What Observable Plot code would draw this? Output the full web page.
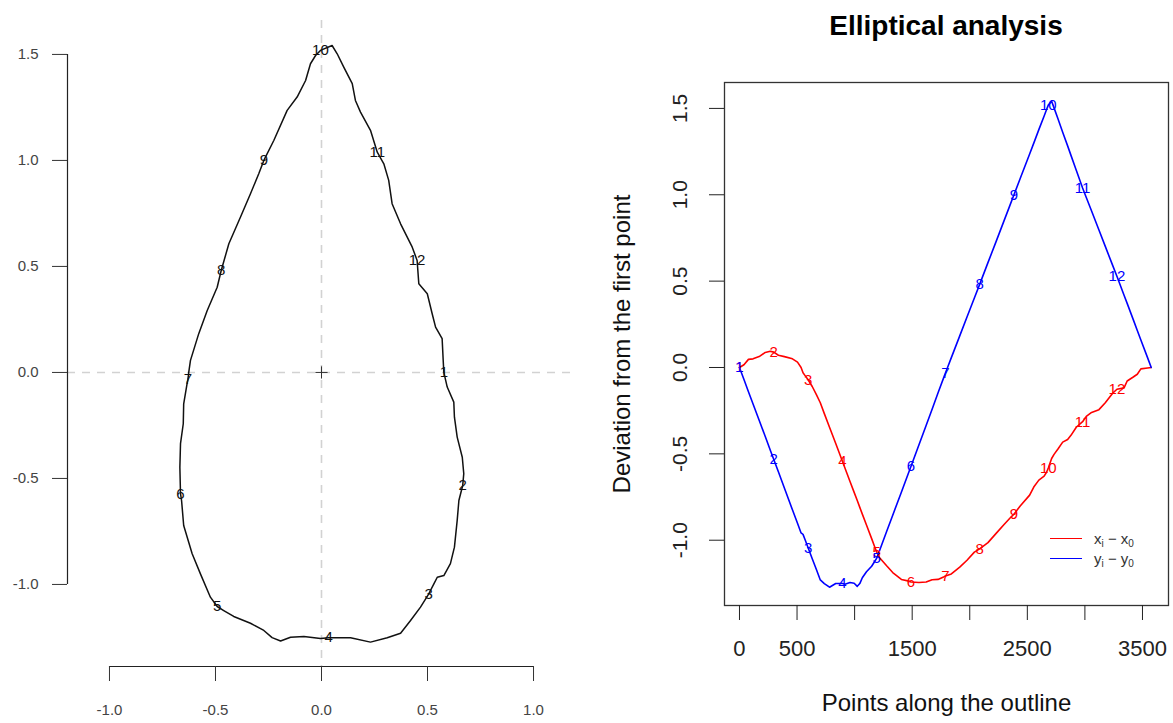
<!DOCTYPE html>
<html><head><meta charset="utf-8">
<script src="https://cdn.jsdelivr.net/npm/d3@7"></script>
<script src="https://cdn.jsdelivr.net/npm/@observablehq/plot@0.6"></script>
<style>
body{margin:0;background:#fff;width:1173px;height:723px;position:relative;overflow:hidden;font-family:"Liberation Sans",Arial,Helvetica,sans-serif;}
#left{position:absolute;left:0;top:0}
#right{position:absolute;left:590px;top:0}
#title{position:absolute;left:724px;width:444px;top:11px;text-align:center;font-weight:bold;font-size:28px;line-height:30px;color:#000}
#legend{position:absolute;left:1050px;top:528px;font-size:15px;color:#333}
.row{display:flex;align-items:center;height:20px}
.sw{width:32px;height:0;border-top:1.6px solid;margin-right:12px}
sub{font-size:10px;vertical-align:-3px;line-height:0}
</style></head><body>
<div id="left"></div><div id="right"></div>
<div id="title">Elliptical analysis</div>
<div id="legend">
  <div class="row"><div class="sw" style="border-color:red"></div><span>x<sub>i</sub> &#8722; x<sub>0</sub></span></div>
  <div class="row"><div class="sw" style="border-color:blue"></div><span>y<sub>i</sub> &#8722; y<sub>0</sub></span></div>
</div>
<script>
// Position of each outline vertex along the outline (point index)
const outlineIndex = [0,39,78,118,171,224,267,298,338,390,460,504,535,552,570,596,632,668,702,737,782,836,894,916,960,996,1023,1045,1067,1103,1148,1174,1192,1217,1278,1331,1406,1472,1490,1559,1621,1673,1724,1777,1788,1808,1840,1913,1976,2040,2086,2158,2231,2294,2348,2384,2438,2520,2556,2600,2646,2668,2682,2711,2732,2766,2807,2850,2879,2925,2980,3012,3058,3122,3177,3241,3278,3340,3367,3420,3455,3486,3544,3576];
// Outline coordinates (x)
const outlineX = [0.577,0.593,0.624,0.627,0.640,0.664,0.671,0.666,0.648,0.640,0.627,0.608,0.577,0.546,0.530,0.506,0.467,0.420,0.373,0.310,0.231,0.137,0.034,-0.005,-0.083,-0.146,-0.193,-0.233,-0.272,-0.335,-0.414,-0.461,-0.492,-0.524,-0.571,-0.610,-0.650,-0.660,-0.665,-0.668,-0.665,-0.652,-0.650,-0.634,-0.630,-0.626,-0.618,-0.579,-0.539,-0.492,-0.473,-0.437,-0.382,-0.335,-0.296,-0.272,-0.225,-0.162,-0.115,-0.075,-0.052,-0.028,-0.005,0.050,0.074,0.105,0.145,0.160,0.184,0.231,0.263,0.294,0.317,0.333,0.373,0.428,0.451,0.459,0.499,0.522,0.538,0.569,0.574,0.577];
// Outline coordinates (y)
const outlineY = [0.000,-0.069,-0.140,-0.211,-0.305,-0.400,-0.478,-0.533,-0.604,-0.698,-0.824,-0.902,-0.958,-0.966,-0.997,-1.044,-1.107,-1.170,-1.230,-1.251,-1.272,-1.251,-1.251,-1.255,-1.245,-1.249,-1.267,-1.251,-1.217,-1.183,-1.151,-1.123,-1.104,-1.060,-0.950,-0.855,-0.722,-0.604,-0.572,-0.447,-0.336,-0.242,-0.148,-0.053,-0.033,0.001,0.057,0.183,0.292,0.402,0.481,0.607,0.733,0.843,0.937,1.000,1.094,1.236,1.299,1.377,1.456,1.495,1.519,1.542,1.503,1.440,1.362,1.283,1.228,1.142,1.039,0.984,0.906,0.796,0.701,0.591,0.528,0.418,0.371,0.277,0.214,0.159,0.057,0.000];
const landmarkLabels = ["1","2","3","4","5","6","7","8","9","10","11","12"];
const landmarkIndex = [0,298,596,894,1192,1490,1788,2086,2384,2682,2980,3278];
const centroid = {x: 0, y: 0};
const leftXTicks = [-1, -0.5, 0, 0.5, 1];
const leftYTicks = [-1, -0.5, 0, 0.5, 1, 1.5];
const leftXDomain = [-1.198, 1.198];
const leftYDomain = [-1.387, 1.660];
const rightXTicks = [0, 500, 1000, 1500, 2000, 2500, 3000, 3500];
const rightXLabels = [0, 500, 1500, 2500, 3500];
const rightYTicks = [-1, -0.5, 0, 0.5, 1, 1.5];
const rightXDomain = [-130, 3726];
const rightYDomain = [-1.378, 1.650];
const xTitle = "Points along the outline";
const yTitle = "Deviation from the first point";

const outline = outlineIndex.map((i, k) => ({i, x: outlineX[k], y: outlineY[k]}));
const x0 = outline[0].x, y0 = outline[0].y;
const dev = outline.map(d => ({i: d.i, dx: d.x - x0, dy: d.y - y0}));
const landmarks = landmarkIndex.map((i, k) => {
  const d = outline.find(o => o.i === i);
  return {label: landmarkLabels[k], i, x: d.x, y: d.y, dx: d.x - x0, dy: d.y - y0};
});
const font = '"Liberation Sans", Arial, Helvetica, sans-serif';

const left = Plot.plot({
  width: 590, height: 723,
  marginLeft: 67, marginRight: 15, marginTop: 20, marginBottom: 57,
  x: {domain: leftXDomain},
  y: {domain: leftYDomain},
  style: {fontFamily: font, fontSize: "15px", color: "#333", background: "white", overflow: "visible"},
  marks: [
    Plot.ruleY([0], {stroke: "#d2d2d2", strokeWidth: 1.6, strokeDasharray: "8,7"}),
    Plot.ruleX([0], {stroke: "#d2d2d2", strokeWidth: 1.6, strokeDasharray: "8,7"}),
    Plot.ruleY([leftYDomain[0]], {x1: d3.min(leftXTicks), x2: d3.max(leftXTicks), stroke: "#222", strokeWidth: 1.2}),
    Plot.ruleX([leftXDomain[0]], {y1: d3.min(leftYTicks), y2: d3.max(leftYTicks), stroke: "#222", strokeWidth: 1.2}),
    Plot.axisX({ticks: leftXTicks, tickSize: 15, tickPadding: 23, tickFormat: d => d.toFixed(1), label: null, fontSize: 15, fill: "#444"}),
    Plot.axisY({ticks: leftYTicks, tickSize: 15, tickPadding: 14, tickFormat: d => d.toFixed(1), label: null, fontSize: 15, fill: "#444"}),
    Plot.dot([centroid], {x: "x", y: "y", symbol: "plus", r: 4, stroke: "#333", strokeWidth: 1}),
    Plot.line(outline, {x: "x", y: "y", stroke: "#111", strokeWidth: 1.5}),
    Plot.text(landmarks, {x: "x", y: "y", text: "label", fill: "#111", fontSize: 15})
  ]
});
document.getElementById("left").append(left);

const right = Plot.plot({
  width: 583, height: 723,
  marginLeft: 134, marginRight: 5, marginTop: 82, marginBottom: 118,
  x: {domain: rightXDomain},
  y: {domain: rightYDomain},
  style: {fontFamily: font, fontSize: "22px", color: "#222", background: "white", overflow: "visible"},
  marks: [
    Plot.frame({stroke: "#333", strokeWidth: 1.3}),
    Plot.axisX({ticks: rightXTicks, tickSize: 15, tickPadding: 20, tickFormat: d => rightXLabels.includes(d) ? String(d) : "", label: null, fontSize: 22}),
    Plot.axisY({ticks: rightYTicks, tickSize: 15, tickFormat: () => "", label: null}),
    Plot.text(rightYTicks, {y: d => d, text: d => d.toFixed(1), frameAnchor: "left", textAnchor: "middle", dx: -44, rotate: -90, fontSize: 21, fill: "#222"}),
    Plot.text([xTitle], {frameAnchor: "bottom", textAnchor: "middle", dy: 105, fontSize: 24, fill: "#111"}),
    Plot.text([yTitle], {frameAnchor: "left", textAnchor: "middle", dx: -102, rotate: -90, fontSize: 24, fill: "#111"}),
    Plot.line(dev, {x: "i", y: "dx", stroke: "red", strokeWidth: 1.6}),
    Plot.line(dev, {x: "i", y: "dy", stroke: "blue", strokeWidth: 1.6}),
    Plot.text(landmarks, {x: "i", y: "dx", text: "label", fill: "red", fontSize: 15}),
    Plot.text(landmarks, {x: "i", y: "dy", text: "label", fill: "blue", fontSize: 15})
  ]
});
document.getElementById("right").append(right);
</script>
</body></html>
